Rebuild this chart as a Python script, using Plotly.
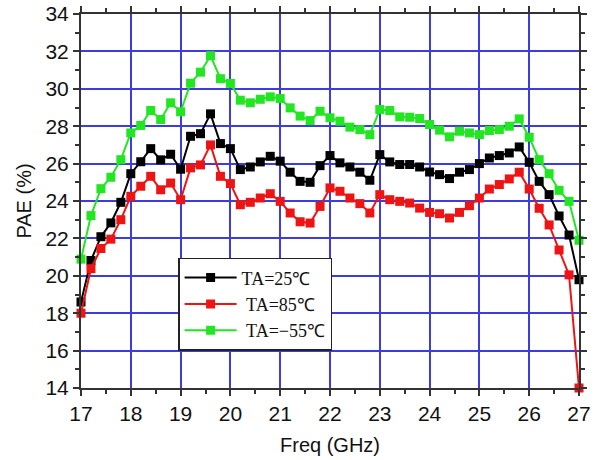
import plotly.graph_objects as go

# Frequency sweep, 17–27 GHz in 0.2 GHz steps
freq_ghz = [round(17.0 + 0.2 * i, 1) for i in range(51)]

pae_25c = [
    18.60, 20.82, 22.09, 22.83, 23.93, 25.46, 26.10, 26.80, 26.20, 26.50,
    25.70, 27.46, 27.60, 28.66, 27.07, 26.80, 25.68, 25.82, 26.09, 26.39,
    26.13, 25.54, 25.05, 25.00, 25.89, 26.43, 26.04, 25.82, 25.54, 25.11,
    26.48, 26.09, 25.95, 25.95, 25.82, 25.55, 25.41, 25.20, 25.54, 25.68,
    26.00, 26.30, 26.43, 26.57, 26.89, 26.07, 25.05, 24.34, 23.20, 22.18,
    19.79,
]

pae_85c = [
    18.00, 20.38, 21.46, 21.96, 23.00, 24.25, 24.79, 25.32, 24.60, 24.96,
    24.07, 25.77, 25.93, 27.00, 25.32, 24.93, 23.80, 23.93, 24.16, 24.39,
    23.98, 23.36, 22.89, 22.82, 23.71, 24.70, 24.52, 24.16, 23.86, 23.36,
    24.34, 24.07, 23.98, 23.89, 23.62, 23.39, 23.32, 23.09, 23.39, 23.75,
    24.16, 24.64, 24.88, 25.18, 25.54, 24.64, 23.61, 22.72, 21.38, 20.05,
    14.00,
]

pae_m55c = [
    20.89, 23.22, 24.66, 25.27, 26.21, 27.64, 28.04, 28.84, 28.36, 29.25,
    28.77, 30.30, 30.89, 31.77, 30.54, 30.29, 29.39, 29.25, 29.44, 29.57,
    29.48, 28.98, 28.54, 28.30, 28.80, 28.45, 28.27, 27.95, 27.82, 27.55,
    28.89, 28.84, 28.50, 28.48, 28.41, 28.09, 27.79, 27.43, 27.73, 27.64,
    27.55, 27.77, 27.82, 28.00, 28.39, 27.41, 26.21, 25.46, 24.57, 23.98,
    21.90,
]

x_ticks = list(range(17, 28))
y_ticks = list(range(14, 35, 2))

series = [
    ("TA=25℃", pae_25c, "#000000"),
    ("\u00a0TA=85℃", pae_85c, "#ee1414"),
    ("\u00a0TA=−55℃", pae_m55c, "#22e622"),
]

fig = go.Figure()
for name, values, color in series:
    fig.add_trace(go.Scatter(
        x=freq_ghz, y=values, name=name, mode="lines+markers",
        line=dict(color=color, width=2),
        marker=dict(symbol="square", size=9, color=color),
        cliponaxis=False,
    ))

axis_common = dict(
    automargin=False,
    showline=True, linecolor="#333333", linewidth=2, mirror="ticks",
    ticks="outside", ticklen=6, tickwidth=1.5, tickcolor="#333333",
    showgrid=True, gridcolor="#3c3ce0", gridwidth=1.5,
    zeroline=False,
    tickfont=dict(family="Liberation Sans, Arial", size=21, color="#111111"),
    title_font=dict(family="Liberation Sans, Arial", size=20, color="#111111"),
)

fig.update_xaxes(
    range=[17, 27], tickvals=x_ticks, title_text="Freq (GHz)", title_standoff=14,
    minor=dict(ticks="outside", ticklen=4, tickcolor="#333333", dtick=0.5, showgrid=False),
    **axis_common,
)
fig.update_yaxes(
    range=[14, 34], tickvals=y_ticks, title_text="PAE (%)", title_standoff=8,
    minor=dict(ticks="outside", ticklen=4, tickcolor="#333333", dtick=1, showgrid=False),
    **axis_common,
)

fig.update_layout(
    width=597, height=460,
    margin=dict(l=81, r=18, t=14, b=72),
    paper_bgcolor="white", plot_bgcolor="white",
    showlegend=True,
    legend=dict(
        x=0.195, y=0.348, xanchor="left", yanchor="top",
        bgcolor="white", bordercolor="#222222", borderwidth=1.5,
        font=dict(family="Liberation Serif, Times New Roman", size=18, color="#111111"),
        tracegroupgap=0, itemwidth=52,
    ),
)

fig.write_html("out.html")
